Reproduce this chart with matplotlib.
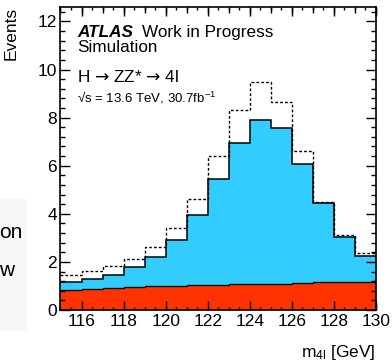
import numpy as np
import matplotlib
matplotlib.use("Agg")
import matplotlib.pyplot as plt
from matplotlib.ticker import MultipleLocator, NullFormatter

plt.rcParams['font.family'] = ['Liberation Sans', 'DejaVu Sans']
plt.rcParams['mathtext.fontset'] = 'custom'
plt.rcParams['mathtext.rm'] = 'Liberation Sans'
plt.rcParams['mathtext.it'] = 'Liberation Sans:italic'
plt.rcParams['mathtext.sf'] = 'DejaVu Sans'

# m4l binning, 1 GeV bins
edges = np.arange(115, 131, 1)

# ZZ* background per bin
zz_bkg = [0.83, 0.87, 0.90, 0.95, 0.98, 1.01, 1.02, 1.04, 1.07, 1.09,
          1.10, 1.12, 1.15, 1.16, 1.18]
# background + H -> ZZ* -> 4l signal (stacked)
stack_total = [1.15, 1.28, 1.46, 1.78, 2.19, 2.92, 3.96, 5.44, 6.94, 7.89,
               7.57, 6.08, 4.45, 3.05, 2.24]
# comparison prediction (dashed)
alt_total = [1.47, 1.61, 1.84, 2.14, 2.60, 3.42, 4.63, 6.39, 8.33, 9.47,
             8.64, 6.60, 4.51, 3.13, 2.38]

fig = plt.figure(figsize=(3.92, 3.62), dpi=100)
ax = fig.add_axes([0.1543, 0.1436, 0.959 - 0.1543, 0.9807 - 0.1436])

ax.stairs(zz_bkg, edges, baseline=0, fill=True, color='#ff3300', lw=0)
ax.stairs(stack_total, edges, baseline=zz_bkg, fill=True, color='#33ccff', lw=0)
ax.stairs(zz_bkg, edges, baseline=None, color='#111111', lw=1.0)
ax.stairs(stack_total, edges, baseline=None, color='black', lw=1.1)
ax.stairs(alt_total, edges, baseline=None, color='black', lw=1.0,
          linestyle=(0, (2, 1.5)))

ax.set_xlim(115, 130)
ax.set_ylim(0, 12.6)

ax.xaxis.set_major_locator(MultipleLocator(2))
ax.xaxis.set_minor_locator(MultipleLocator(0.5))
ax.yaxis.set_major_locator(MultipleLocator(2))
ax.yaxis.set_minor_locator(MultipleLocator(0.4))
ax.tick_params(which='both', direction='in', top=True, right=True,
               labelsize=12.5, width=1.0)
ax.tick_params(axis='x', which='major', length=6.5, pad=3)
ax.tick_params(axis='x', which='minor', length=2.5)
ax.tick_params(axis='y', which='major', length=7.5, pad=2.5)
ax.tick_params(axis='y', which='minor', length=3.8)

# medium ticks at every GeV
for side in ('bottom', 'top'):
    sec = ax.secondary_xaxis(side)
    sec.set_xticks(np.arange(115, 131, 1))
    sec.xaxis.set_major_formatter(NullFormatter())
    sec.tick_params(direction='in', length=4, width=1.0)
    sec.spines[side].set_visible(False)

for s in ax.spines.values():
    s.set_linewidth(1.2)

ax.set_ylabel('Events', fontsize=12.5, loc='top')
ax.yaxis.set_label_coords(-0.133, 1.0)
fig.text(376 / 392, 1 - 353 / 362, r'm$_{\mathrm{4l}}$ [GeV]', fontsize=12.5,
         ha='right', va='center')

ax.text(0.052, 0.917, 'ATLAS', transform=ax.transAxes, fontsize=12.3,
        fontweight='bold', fontstyle='italic', va='center')
ax.text(0.257, 0.917, 'Work in Progress', transform=ax.transAxes,
        fontsize=12.3, va='center')
ax.text(0.052, 0.865, 'Simulation', transform=ax.transAxes, fontsize=12.3,
        va='center')
ax.text(0.052, 0.768, r'H $\mathsf{→}$ ZZ* $\mathsf{→}$ 4l',
        transform=ax.transAxes, fontsize=12.3, va='center')
ax.text(0.052, 0.70, r'√s = 13.6 TeV, 30.7fb$^{-1}$',
        transform=ax.transAxes, fontsize=9.5, va='center')

# clipped legend remnants at the left edge
fig.patches.append(plt.Rectangle((0, 0.09), 0.066, 0.36,
                                 transform=fig.transFigure,
                                 color='#f7f7f7', zorder=-1))
fig.text(-0.003, 1 - 232 / 362, 'on', fontsize=15, va='center')
fig.text(-0.003, 1 - 270 / 362, 'w', fontsize=15, va='center')

fig.savefig('out.png', dpi=100)
